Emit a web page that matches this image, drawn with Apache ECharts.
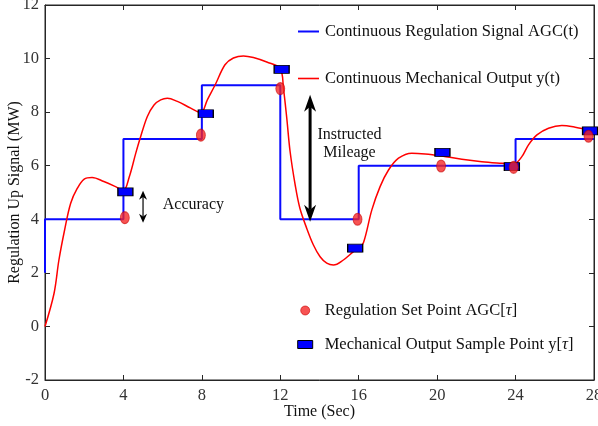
<!DOCTYPE html>
<html><head><meta charset="utf-8">
<script src="https://cdn.jsdelivr.net/npm/echarts@6/dist/echarts.min.js"></script>
<style>html,body{margin:0;padding:0;background:#fff}#c{width:598px;height:426px}</style>
</head><body><div id="c"></div>
<script>
// ---- data ----
const agcTimes  = [0, 0, 4, 8, 12, 16, 24, 28];
const agcValues = [2, 4, 7, 9, 4, 6, 7, 7];

const outTimes  = [0, 0.46, 0.71, 1.0, 1.31, 1.65, 2.0, 2.4, 3.0, 3.6, 4.0, 4.3, 4.63, 4.88, 5.22, 5.56, 5.9, 6.24, 6.75, 7.43, 7.95,
                   8.28, 8.7, 9.18, 9.61, 10.12, 10.63, 11.31, 12.0, 12.16, 12.33, 12.5, 12.76, 13.0, 13.35, 13.69, 14.03, 14.37, 14.71,
                   15.22, 15.73, 16.0, 16.24, 16.67, 17.09, 17.52, 18.03, 18.71, 19.39, 20.24, 21.26, 22.28, 23.3, 23.9,
                   24.32, 24.66, 25.09, 25.68, 26.36, 27.04, 28.0];
const outValues = [0, 1.23, 2.48, 3.6, 4.6, 5.16, 5.5, 5.56, 5.41, 5.22, 5.08, 5.59, 6.47, 7.09, 7.84, 8.27, 8.46, 8.52, 8.4, 8.15, 7.98,
                   8.46, 9.05, 9.77, 10.02, 10.1, 10.04, 9.87, 9.62, 8.9, 7.78, 6.53, 5.28, 4.41, 3.66, 3.04, 2.6, 2.36, 2.29,
                   2.48, 2.79, 2.92, 3.12, 4.35, 5.22, 5.84, 6.28, 6.47, 6.44, 6.36, 6.24, 6.15, 6.09, 6.06,
                   6.34, 6.78, 7.15, 7.4, 7.5, 7.44, 7.3];

const setPointTimes  = [4.07, 7.95, 12.0, 15.94, 20.2, 23.9, 27.72];
const setPointValues = [4.06, 7.14, 8.88, 4.0, 5.99, 5.94, 7.1];

const sampleTimes  = [4.1, 8.2, 12.07, 15.82, 20.27, 23.81, 27.8];
const sampleValues = [5.02, 7.94, 9.6, 2.92, 6.5, 5.97, 7.3];

const arrowTimes = [5.0, 13.52];
const arrowFrom  = [3.87, 3.91];
const arrowTo    = [5.07, 8.65];

const noteTimes  = [7.57, 15.53];
const noteValues = [4.53, 6.81];
const noteTexts  = ['Accuracy', 'Instructed\nMileage'];

const agcName = 'Continuous Regulation Signal AGC(t)';
const outName = 'Continuous Mechanical Output y(t)';
const setName = 'Regulation Set Point AGC[τ]';
const smpName = 'Mechanical Output Sample Point y[τ]';

// ---- styles ----
const serif = 'Liberation Serif';
const textCol = '#111';
const axisCol = '#262626';
const dotFill = 'rgba(245,35,35,0.78)';
const dotBorder = 'rgba(200,0,0,0.6)';
const legFont = 16.5;
const arrowStyles = [
  {lineWidth: 1.2, headWidth: 8, headLength: 9, notch: 0.3},
  {lineWidth: 3, headWidth: 12, headLength: 17, notch: 0.3}
];

const zip = (a, b) => a.map((v, i) => [v, b[i]]);

const chart = echarts.init(document.getElementById('c'), null, {renderer: 'canvas'});

function legendRich(pad) {
  return {
    s: {width: pad, fontSize: legFont, lineHeight: 16},
    n: {fontFamily: serif, fontSize: legFont, color: textCol, lineHeight: 16},
    i: {fontFamily: serif, fontSize: legFont, color: textCol, fontStyle: 'italic', lineHeight: 16}
  };
}
function legendText(name) { return '{s| }{n|' + name.replace('τ', '}{i|τ}{n|') + '}'; }
function mkLegend(pad, extra) {
  return Object.assign({
    orient: 'vertical', padding: 0, selectedMode: false,
    textStyle: {fontFamily: serif, fontSize: legFont, color: textCol, lineHeight: 16, rich: legendRich(pad)},
    formatter: legendText
  }, extra);
}

function axisLine() { return {show: true, onZero: false, lineStyle: {color: axisCol, width: 1}}; }
function axisTick() { return {show: true, inside: true, length: 5, lineStyle: {color: axisCol}}; }

const option = {
  animation: false,
  backgroundColor: '#fff',
  grid: {left: 45, top: 5, right: 4, bottom: 46, containLabel: false, outerBoundsMode: 'none',
    show: true, borderColor: axisCol, borderWidth: 1, backgroundColor: 'transparent'},
  xAxis: [
    {type: 'value', min: 0, max: 28, interval: 4, position: 'bottom', splitLine: {show: false},
      axisLine: axisLine(), axisTick: axisTick(),
      name: 'Time (Sec)', nameLocation: 'middle', nameGap: 24, nameMoveOverlap: false,
      nameTextStyle: {fontFamily: serif, fontSize: 16, color: textCol},
      axisLabel: {fontFamily: serif, fontSize: 16.5, color: '#333', margin: 7}},
    {type: 'value', min: 0, max: 28, interval: 4, position: 'top', show: true, splitLine: {show: false},
      axisLine: axisLine(), axisTick: axisTick(), axisLabel: {show: false}}
  ],
  yAxis: [
    {type: 'value', min: -2, max: 12, interval: 2, position: 'left', splitLine: {show: false},
      axisLine: axisLine(), axisTick: axisTick(),
      name: 'Regulation Up Signal (MW)', nameLocation: 'middle', nameGap: 22, nameRotate: 90, nameMoveOverlap: false,
      nameTextStyle: {fontFamily: serif, fontSize: 16, color: textCol},
      axisLabel: {fontFamily: serif, fontSize: 16.5, color: '#333', margin: 6}},
    {type: 'value', min: -2, max: 12, interval: 2, position: 'right', show: true, splitLine: {show: false},
      axisLine: axisLine(), axisTick: axisTick(), axisLabel: {show: false}}
  ],
  legend: [
    mkLegend(1, {data: [{name: agcName, icon: 'rect'}], left: 298, top: 23, itemWidth: 21, itemHeight: 2}),
    mkLegend(1, {data: [{name: outName, icon: 'rect'}], left: 298, top: 70, itemWidth: 21, itemHeight: 1.6}),
    mkLegend(10, {data: [{name: setName, icon: 'circle',
      itemStyle: {color: dotFill, borderColor: dotBorder, borderWidth: 1}}],
      left: 300.2, top: 302, itemWidth: 9, itemHeight: 12, symbolKeepAspect: false}),
    mkLegend(7, {data: [{name: smpName, icon: 'rect',
      itemStyle: {color: '#0000ff', borderColor: '#000', borderWidth: 1}}],
      left: 297.2, top: 336, itemWidth: 15, itemHeight: 8, symbolKeepAspect: false})
  ],
  series: [
    {
      name: agcName, type: 'line', step: 'end', data: zip(agcTimes, agcValues),
      showSymbol: false, symbol: 'none', z: 2,
      lineStyle: {color: '#0a0aff', width: 2}, itemStyle: {color: '#0a0aff'}
    },
    {
      name: outName, type: 'line', smooth: 0.35, data: zip(outTimes, outValues),
      showSymbol: false, symbol: 'none', z: 3,
      lineStyle: {color: '#ff0000', width: 1.5}, itemStyle: {color: '#ff0000'}
    },
    {
      name: smpName, type: 'scatter', data: zip(sampleTimes, sampleValues), z: 4,
      symbol: 'rect', symbolSize: [15, 8],
      itemStyle: {color: '#0000ff', borderColor: '#000', borderWidth: 1, opacity: 1}
    },
    {
      name: setName, type: 'scatter', data: zip(setPointTimes, setPointValues), z: 5,
      symbol: 'circle', symbolSize: [9, 12],
      itemStyle: {color: dotFill, borderColor: dotBorder, borderWidth: 1, opacity: 1}
    },
    {
      name: 'arrows', type: 'custom', z: 6, silent: true,
      data: arrowTimes.map((t, i) => [t, arrowFrom[i], arrowTo[i]]),
      encode: {x: 0, y: [1, 2]},
      renderItem: function (params, api) {
        const s = arrowStyles[params.dataIndex];
        const a = api.coord([api.value(0), api.value(1)]);
        const b = api.coord([api.value(0), api.value(2)]);
        const x = a[0], yb = a[1], yt = b[1];
        const L = s.headLength, W = s.headWidth / 2, n = s.notch * L;
        return {type: 'group', children: [
          {type: 'line', shape: {x1: x, y1: yt + L - n, x2: x, y2: yb - L + n}, style: {stroke: '#000', lineWidth: s.lineWidth}},
          {type: 'polygon', shape: {points: [[x, yt], [x + W, yt + L], [x, yt + L - n], [x - W, yt + L]]}, style: {fill: '#000'}},
          {type: 'polygon', shape: {points: [[x, yb], [x + W, yb - L], [x, yb - L + n], [x - W, yb - L]]}, style: {fill: '#000'}}
        ]};
      }
    },
    {
      name: 'notes', type: 'custom', z: 6, silent: true, xAxisIndex: 1, yAxisIndex: 1,
      data: noteTimes.map((t, i) => [t, noteValues[i], i]),
      encode: {x: 0, y: 1},
      renderItem: function (params, api) {
        const p = api.coord([api.value(0), api.value(1)]);
        return {type: 'text', x: p[0], y: p[1], style: {
          text: noteTexts[params.dataIndex], fontFamily: serif, fontSize: 16, fill: textCol,
          align: 'center', verticalAlign: 'middle', lineHeight: 18.5}};
      }
    }
  ]
};
chart.setOption(option);
</script>
</body></html>
